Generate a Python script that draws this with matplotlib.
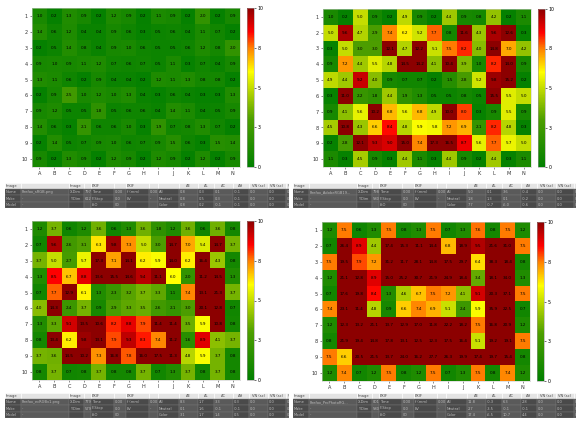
import matplotlib
matplotlib.use("Agg")
import matplotlib.pyplot as plt
import numpy as np
from matplotlib.colors import LinearSegmentedColormap
from matplotlib.patches import Rectangle

W, H = 576, 425
cols = list("ABCDEFGHIJKLMN")
rows = [str(i) for i in range(1, 11)]

tl_vals = [
    [1.0, 0.2, 1.3, 0.9, 0.2, 1.2, 0.9, 0.2, 1.1, 0.9, 0.2, 2.0, 0.2, 0.9],
    [1.4, 0.6, 1.2, 0.4, 0.4, 0.9, 0.6, 0.3, 0.5, 0.6, 0.4, 1.1, 0.7, 0.2],
    [0.2, 0.5, 1.4, 0.8, 0.4, 0.9, 1.0, 0.6, 0.5, 0.5, 0.6, 1.2, 0.8, 2.0],
    [0.9, 1.0, 0.9, 1.1, 1.2, 0.7, 0.6, 0.7, 0.5, 1.1, 0.3, 0.7, 0.4, 0.9],
    [1.3, 1.1, 0.6, 0.2, 0.9, 0.4, 0.4, 0.2, 1.2, 1.1, 1.3, 0.8, 0.8, 0.2],
    [0.2, 0.9, 2.5, 1.0, 1.2, 1.0, 1.3, 0.4, 0.3, 0.6, 0.4, 0.3, 0.3, 1.3],
    [0.9, 1.2, 0.5, 0.5, 1.8, 0.5, 0.6, 0.6, 0.4, 1.4, 1.1, 0.4, 0.5, 0.9],
    [1.4, 0.6, 0.3, 2.1, 0.6, 0.6, 1.0, 0.3, 1.9, 0.7, 0.8, 1.3, 0.7, 0.2],
    [0.2, 1.4, 0.5, 0.7, 0.9, 1.0, 0.6, 0.7, 0.9, 1.5, 0.6, 0.3, 1.5, 1.4],
    [0.9, 0.2, 1.3, 0.9, 0.2, 1.2, 0.9, 0.2, 1.2, 0.9, 0.2, 1.2, 0.2, 0.9],
]
tr_vals = [
    [1.0, 0.2, 5.0, 0.9, 0.2, 4.9, 0.9, 0.2, 4.4, 0.9, 0.8, 4.2, 0.2, 1.1],
    [5.0, 9.6, 4.7, 2.9, 7.4, 6.2, 5.2, 7.7, 0.8, 11.6, 4.3, 9.6, 12.6, 0.3],
    [0.3, 5.0, 3.0, 3.0, 12.1, 4.7, 12.2, 5.1, 7.5, 8.2, 4.0, 14.8, 7.0, 4.2],
    [0.9, 7.2, 4.4, 5.5, 4.8, 14.5, 14.2, 4.1, 10.4, 3.9, 1.0, 8.2, 14.0, 0.9],
    [4.9, 4.4, 9.2, 4.0, 0.9, 0.7, 0.7, 0.2, 1.5, 2.8, 5.2, 9.8, 15.2, 0.2],
    [0.3, 11.0, 2.2, 1.8, 4.4, 1.9, 1.3, 0.5, 0.5, 0.8, 0.5, 15.5, 5.5, 5.0],
    [0.9, 4.1, 5.6, 10.2, 6.8, 5.6, 6.8, 4.9, 10.0, 8.0, 0.3, 0.9, 5.5, 0.9],
    [4.5, 10.8, 4.3, 6.6, 8.4, 4.8, 5.9, 5.8, 7.2, 6.9, 2.1, 8.2, 4.8, 0.3],
    [0.2, 2.8, 12.1, 9.3, 9.0, 15.0, 7.4, 17.3, 16.5, 8.7, 5.6, 7.7, 5.7, 5.0],
    [1.1, 0.3, 4.5, 0.9, 0.3, 4.4, 1.1, 0.3, 4.4, 0.9, 0.2, 4.4, 0.3, 1.1],
]
bl_vals = [
    [1.2, 3.7, 0.6, 1.2, 3.6, 0.6, 1.3, 3.6, 1.8, 1.2, 3.6, 0.6, 3.6, 0.8],
    [0.7, 9.6, 2.6, 3.1, 6.3, 9.8, 7.3, 5.0, 3.0, 14.7, 7.0, 5.4, 14.7, 3.7],
    [3.7, 5.0, 2.7, 5.7, 17.3, 7.1, 14.1, 6.2, 5.9, 14.0, 6.2, 16.4, 4.3, 0.8],
    [1.3, 8.5, 6.7, 8.8, 13.6, 15.5, 14.6, 9.4, 11.1, 6.0, 2.0, 11.2, 14.5, 1.3],
    [0.7, 7.7, 12.9, 6.1, 1.3, 2.3, 3.2, 3.7, 3.3, 1.1, 7.4, 13.1, 21.3, 3.7],
    [4.0, 14.3, 2.4, 3.7, 0.9, 2.9, 3.3, 3.5, 2.6, 2.1, 3.0, 20.1, 12.8, 0.7],
    [1.3, 3.3, 9.1, 13.5, 10.6, 8.2, 8.8, 7.9, 11.4, 11.4, 3.5, 5.9, 10.8, 0.8],
    [0.8, 13.4, 6.2, 9.8, 13.1, 7.9, 9.3, 8.3, 7.4, 11.2, 1.6, 8.9, 4.1, 3.7],
    [3.7, 3.6, 14.5, 10.2, 7.3, 16.8, 7.8, 16.0, 17.5, 11.3, 4.8, 5.9, 3.7, 0.8],
    [0.8, 3.7, 0.7, 0.8, 3.7, 0.8, 0.8, 3.7, 0.7, 1.3, 3.7, 0.8, 3.7, 0.8],
]
br_vals = [
    [1.2, 7.5, 0.6, 1.3, 7.5, 0.8, 1.3, 7.5, 0.7, 1.3, 7.6, 0.8, 7.5, 1.2],
    [0.7, 26.4, 8.9, 4.4, 17.4, 15.3, 11.1, 14.4, 6.8, 18.9, 9.5, 21.6, 31.0, 7.5],
    [7.5, 19.5, 7.9, 7.2, 31.2, 11.7, 28.1, 14.8, 17.5, 29.7, 6.4, 38.3, 18.4, 0.8],
    [1.2, 21.1, 12.8, 8.9, 15.0, 25.2, 30.7, 21.9, 24.9, 18.4, 3.4, 18.1, 34.0, 1.3],
    [0.7, 17.6, 19.8, 8.4, 1.3, 4.6, 6.7, 7.5, 7.2, 4.1, 9.1, 20.3, 37.1, 7.5],
    [7.4, 23.1, 11.4, 4.8, 0.9, 6.6, 7.4, 6.9, 5.1, 2.4, 5.9, 35.9, 22.5, 0.7],
    [1.2, 12.3, 13.2, 21.1, 13.7, 12.9, 17.0, 11.8, 22.2, 18.2, 7.5, 16.8, 20.9, 1.2],
    [0.8, 21.9, 19.4, 14.8, 17.8, 13.1, 12.5, 12.3, 17.5, 16.4, 5.1, 19.2, 19.1, 7.5],
    [7.5, 6.6, 20.5, 21.5, 13.7, 24.0, 16.2, 27.7, 26.3, 19.9, 17.4, 19.7, 15.4, 0.8],
    [1.2, 7.4, 0.7, 1.2, 7.5, 0.8, 1.2, 7.5, 0.7, 1.3, 7.5, 0.8, 7.4, 1.2],
]

cbar_ticks = [0, 2.5, 5, 7.5, 10]
cbar_labels = ["0", "3", "5", "8", "10"]

table_header = ["Image", "", "Image", "", "EXIF", "", "EXIF", "", "",
                "\u0394E", "\u0394L", "\u0394C", "\u0394H", "VN (sc)", "VN (sc)", "VN (sc)"]
tl_table = [
    ["Name", "Firefox_sRGB.png", "X-Dim", "797", "Time", "0.00", "f (mm)", "0.00", "All",
     "0.8", "0.3", "0.1", "-0.1", "0.0", "0.0", "0.0"],
    ["Make", "-", "Y-Dim", "612", "F-Stop", "0.0", "EV", "-", "Neutral",
     "0.8", "0.5", "0.3", "-0.1", "0.0", "0.0", "0.2"],
    ["Model", "-", "", "", "ISO", "00", "", "", "Color",
     "0.8", "0.2", "-0.1", "-0.1", "0.0", "0.0", "0.2"],
]
tr_table = [
    ["Name", "Firefox_AdobeRGB19...", "X-Dim", "798", "Time", "0.00", "f (mm)", "0.00", "All",
     "5.0", "0.1", "3.6", "-0.4", "0.0", "0.0", "0.0"],
    ["Make", "-", "Y-Dim", "580", "F-Stop", "0.0", "EV", "-", "Neutral",
     "1.8", "1.3", "0.1", "-0.2", "0.0", "0.0", "0.0"],
    ["Model", "-", "", "", "ISO", "00", "", "", "Color",
     "7.7", "-0.7", "-6.0", "-0.6", "0.0", "0.0", "0.0"],
]
bl_table = [
    ["Name", "Firefox_ecRGBv1.png", "X-Dim", "779", "Time", "0.00", "f (mm)", "0.00", "All",
     "8.3", "1.7", "3.3", "0.3", "0.0", "0.0", "0.0"],
    ["Make", "-", "Y-Dim", "579", "F-Stop", "0.0", "EV", "-", "Neutral",
     "0.1", "1.6", "-0.1", "-0.1", "0.0", "0.0", "0.0"],
    ["Model", "-", "", "", "ISO", "00", "", "", "Color",
     "3.1", "1.7", "1.4", "0.5", "0.0", "0.0", "0.0"],
]
br_table = [
    ["Name", "Firefox_ProPhotoRG...", "X-Dim", "801", "Time", "0.00", "f (mm)", "0.00", "All",
     "11.8", "-0.3", "6.3", "2.8", "0.0", "0.0", "0.0"],
    ["Make", "-", "Y-Dim", "580", "F-Stop", "0.0", "EV", "-", "Neutral",
     "2.7", "-3.5", "-0.1", "-0.1", "0.0", "0.0", "0.0"],
    ["Model", "-", "", "", "ISO", "00", "", "", "Color",
     "17.4", "-6.5", "10.7", "4.4", "0.0", "0.0", "0.0"],
]

cmap = LinearSegmentedColormap.from_list("de", [
    (0.0, (0.0, 0.5, 0.0)),
    (0.3, (0.30, 0.62, 0.0)),
    (0.45, (0.65, 0.80, 0.0)),
    (0.6, (1.0, 1.0, 0.0)),
    (0.75, (1.0, 0.5, 0.0)),
    (0.85, (1.0, 0.0, 0.0)),
    (1.0, (0.55, 0.0, 0.0)),
])

fig = plt.figure(figsize=(W / 100, H / 100), dpi=100)
fig.patch.set_facecolor("white")


def fax(x0, y0, x1, y1):
    return fig.add_axes([x0 / W, 1 - y1 / H, (x1 - x0) / W, (y1 - y0) / H])


def heatmap(vals, box, cbox):
    ax = fax(*box)
    data = np.array(vals)
    im = ax.imshow(data, cmap=cmap, vmin=0, vmax=10, aspect="auto",
                   interpolation="nearest")
    for i in range(data.shape[0]):
        for j in range(data.shape[1]):
            ax.text(j, i, f"{data[i, j]:.1f}", ha="center", va="center",
                    fontsize=3.0, color="black")
    ax.set_xticks(range(len(cols)))
    ax.set_xticklabels(cols)
    ax.set_yticks(range(len(rows)))
    ax.set_yticklabels(rows)
    ax.tick_params(labelsize=3.6, length=1.5, width=0.4, pad=1.5, colors="#333333")
    for s in ax.spines.values():
        s.set_linewidth(0.4)
        s.set_color("#cccccc")
    cax = fax(*cbox)
    cb = fig.colorbar(im, cax=cax, ticks=cbar_ticks)
    cb.ax.set_yticklabels(cbar_labels)
    cb.ax.tick_params(labelsize=3.4, length=1.5, width=0.4, pad=1)
    cb.outline.set_linewidth(0.4)
    cb.outline.set_edgecolor("#999999")


heatmap(tl_vals, (32, 8, 240, 167), (247, 8, 254, 167))
heatmap(tr_vals, (323, 9, 531, 167), (538, 9, 545, 167))
heatmap(bl_vals, (32, 221, 240, 380), (247, 221, 254, 380))
heatmap(br_vals, (322, 222, 530, 381), (537, 222, 544, 381))

col_edges = [0, 16, 64, 79, 86, 109, 121, 144, 153, 174, 193, 209, 228, 244, 263, 281, 299]


def table(rows_data, x0, y0, xclip):
    ax = fax(x0, y0, xclip, y0 + 25)
    ax.set_xlim(0, xclip - x0)
    ax.set_ylim(25, 0)
    ax.axis("off")
    rh = 6.2
    # header
    for k in range(len(table_header)):
        a, b = col_edges[k], col_edges[k + 1]
        ax.add_patch(Rectangle((a, 0), b - a, rh, facecolor="#e4e4e4",
                               edgecolor="white", linewidth=0.4))
        ax.text((a + b) / 2 if k >= 9 else a + 1, rh / 2, table_header[k],
                ha="center" if k >= 9 else "left", va="center",
                fontsize=2.6, color="#444444", clip_on=True)
    for r, rd in enumerate(rows_data):
        y = rh * (r + 1)
        for k in range(len(rd)):
            a, b = col_edges[k], col_edges[k + 1]
            fc = "#4a4a4a" if k % 2 == 0 else "#5a5a5a"
            ax.add_patch(Rectangle((a, y), b - a, rh, facecolor=fc,
                                   edgecolor="#777777", linewidth=0.3))
            ax.text(a + 1, y + rh / 2, rd[k], ha="left", va="center",
                    fontsize=2.6, color="#bdbdbd", clip_on=True)


table(tl_table, 5, 183, 289)
table(tr_table, 293, 183, 576)
table(bl_table, 5, 393, 289)
table(br_table, 293, 393, 576)

fig.savefig("out.png", dpi=100, facecolor="white")
